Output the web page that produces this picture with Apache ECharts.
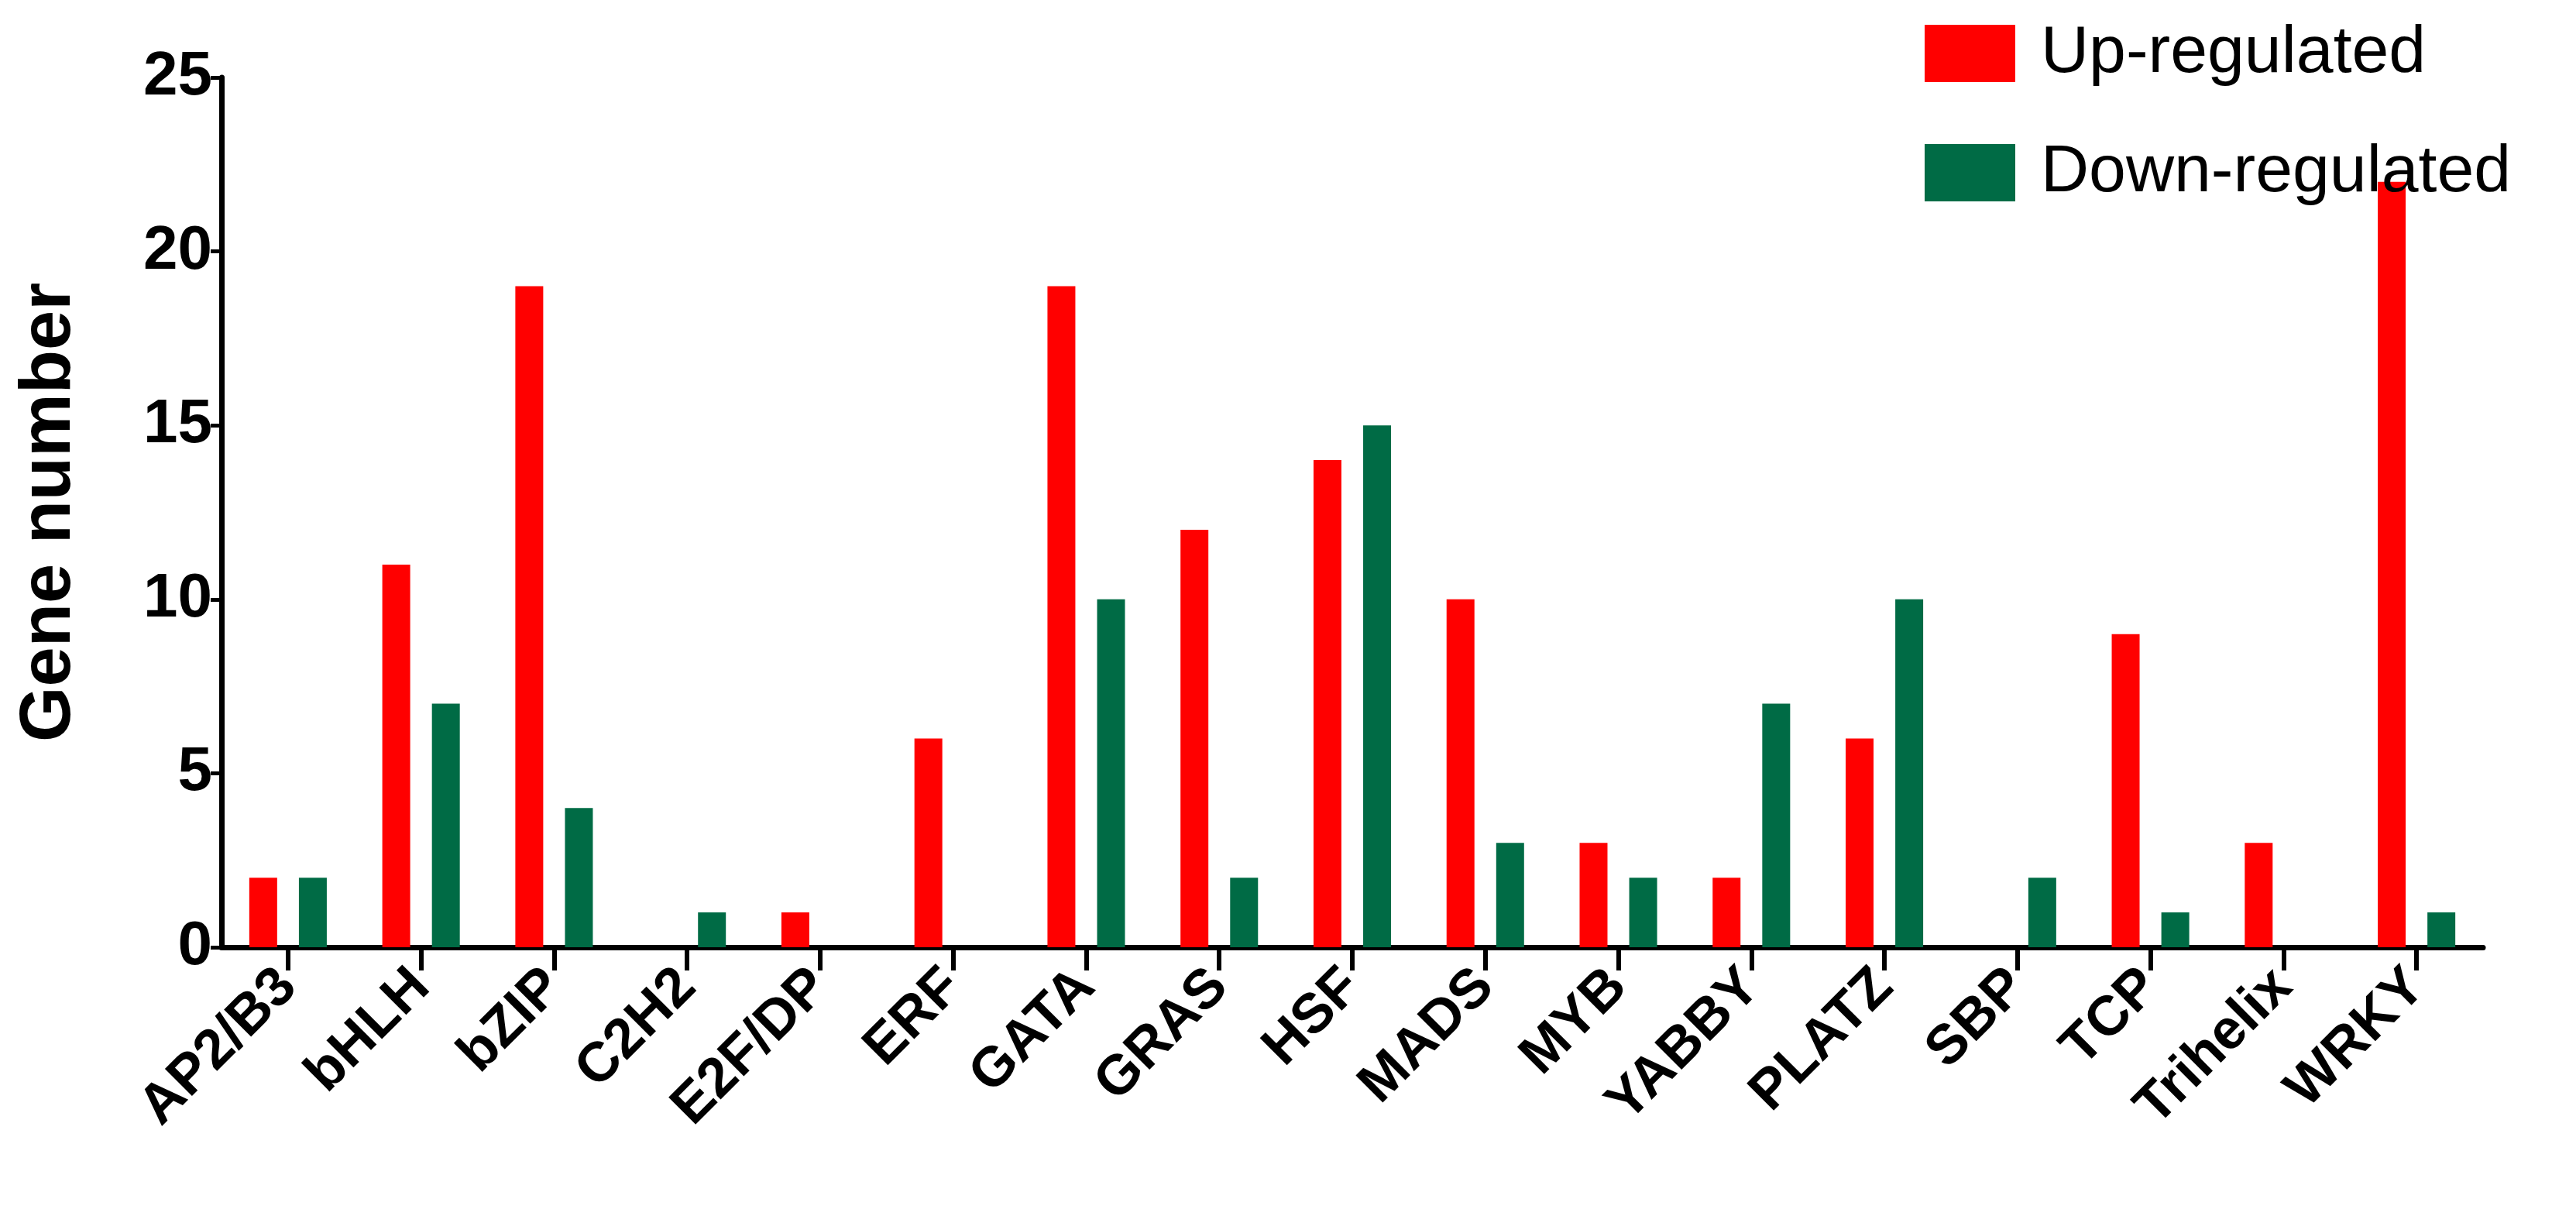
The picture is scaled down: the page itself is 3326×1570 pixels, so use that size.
<!DOCTYPE html>
<html><head><meta charset="utf-8">
<script src="https://cdn.jsdelivr.net/npm/echarts@6/dist/echarts.min.js"></script>
<style>html,body{margin:0;background:#fff}#c{width:3326px;height:1570px}</style>
</head><body><div id="c"></div>
<script>
const categories = ['AP2/B3','bHLH','bZIP','C2H2','E2F/DP','ERF','GATA','GRAS','HSF','MADS','MYB','YABBY','PLATZ','SBP','TCP','Trihelix','WRKY'];
const upRegulated = [2,11,19,0,1,6,19,12,14,10,3,2,6,0,9,3,22];
const downRegulated = [2,7,4,1,0,0,10,2,15,3,2,7,10,2,1,0,1];
const yTicks = [0,5,10,15,20,25];
const F = '"Liberation Sans", Arial, sans-serif';
const chart = echarts.init(document.getElementById('c'));
chart.setOption({
  animation:false,
  grid:{left:286,top:100,width:2920,height:1123,containLabel:false},
  legend:{left:2480,top:21,orient:'vertical',itemWidth:117,itemHeight:74,itemGap:68,
    itemStyle:{borderRadius:0},
    textStyle:{fontFamily:F,fontSize:86,color:'#000',padding:[0,0,0,28]},
    data:[{name:'Up-regulated',icon:'rect'},{name:'Down-regulated',icon:'rect'}]},
  xAxis:{type:'category',data:categories,boundaryGap:true,
    axisLine:{lineStyle:{color:'#000',width:7}},
    axisTick:{show:true,alignWithLabel:true,length:30,lineStyle:{color:'#000',width:6}},
    axisLabel:{rotate:45,margin:40,interval:0,fontFamily:F,fontWeight:'bold',fontSize:72,color:'#000'}},
  yAxis:{type:'value',min:0,max:25,interval:5,
    name:'Gene number',nameLocation:'middle',nameGap:175,nameRotate:90,
    nameTextStyle:{fontFamily:F,fontWeight:'bold',fontSize:92,color:'#000'},
    axisLine:{show:true,lineStyle:{color:'#000',width:7}},
    axisTick:{show:true,length:14,lineStyle:{color:'#000',width:5}},
    splitLine:{show:false},
    axisLabel:{margin:12,fontFamily:F,fontWeight:'bold',fontSize:80,color:'#000',
      formatter:v=>yTicks.includes(v)?String(v):''}},
  series:[
    {name:'Up-regulated',type:'bar',data:upRegulated,barWidth:36,barGap:'78%',itemStyle:{color:'#ff0000'}},
    {name:'Down-regulated',type:'bar',data:downRegulated,barWidth:36,itemStyle:{color:'#006b45'}}
  ]
});
</script></body></html>
